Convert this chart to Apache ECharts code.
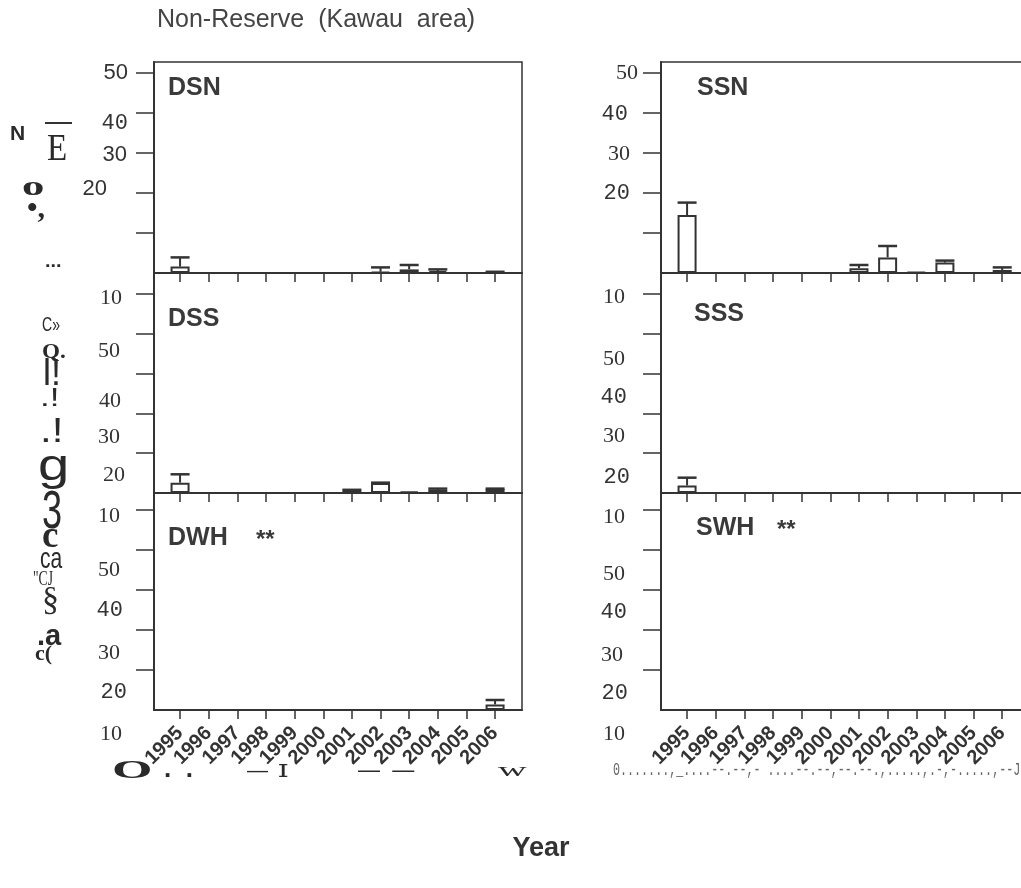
<!DOCTYPE html>
<html><head><meta charset="utf-8">
<script src="https://cdn.jsdelivr.net/npm/echarts@6/dist/echarts.min.js"></script>
<style>html,body{margin:0;padding:0;background:#fff}#c{width:1021px;height:888px}</style>
</head><body><div id="c"></div>
<script>
// ---------------- DATA ----------------
const years = [1995,1996,1997,1998,1999,2000,2001,2002,2003,2004,2005,2006];
const dsnMean  = [1.6, 0, 0, 0, 0, 0, 0,   0.3, 0.9, 0.5, 0, 0.2];
const dsnUpper = [3.9, 0, 0, 0, 0, 0, 0,   1.4, 2.0, 0.9, 0, 0.3];
const ssnMean  = [14.5,0, 0, 0, 0, 0, 1.2, 3.9, 0.3, 2.6, 0, 0.75];
const ssnUpper = [17.6,0, 0, 0, 0, 0, 2.0, 6.75,0.3, 3.1, 0, 1.4];
const dssMean  = [2.6, 0, 0, 0, 0, 0, 0.6, 2.5, 0.4, 0.8, 0, 1.0];
const dssUpper = [4.7, 0, 0, 0, 0, 0, 0.8, 2.6, 0.4, 1.1, 0, 1.1];
const sssMean  = [1.9, 0, 0, 0, 0, 0, 0,   0,   0,   0,   0, 0];
const sssUpper = [3.85,0, 0, 0, 0, 0, 0,   0,   0,   0,   0, 0];
const dwhMean  = [0,   0, 0, 0, 0, 0, 0,   0,   0,   0,   0, 1.4];
const dwhUpper = [0,   0, 0, 0, 0, 0, 0,   0,   0,   0,   0, 2.5];
const swhMean  = [0,   0, 0, 0, 0, 0, 0,   0,   0,   0,   0, 0];
const swhUpper = [0,   0, 0, 0, 0, 0, 0,   0,   0,   0,   0, 0];

const tickValues    = [50, 40, 30, 20, 10, 0];
const dsnTickLabels = ['50','40','30','20','',''];
const ssnTickLabels = ['50','40','30','20','',''];
const dssTickLabels = ['10','50','40','30','20',''];
const sssTickLabels = ['10','50','40','30','20',''];
const dwhTickLabels = ['10','50','40','30','20','10'];
const swhTickLabels = ['10','50','40','30','20','10'];

const panelNames = ['DSN','SSN','DSS','SSS','DWH','SWH'];
const panelMarks = ['','','','','**','**'];
const titleText = 'Non-Reserve  (Kawau  area)';
const xAxisTitle = 'Year';
// scanned (OCR) fragments of the original figure
const ocrTexts = ['N','E','o','\u2022,','...','C\u00bb','Q.','l!','.!','.!','g','3','c','ca','"CJ','\u00a7','.a','c(',
                  'O','.  .','\u2014','\u026a','\u2014  \u2014','w',
                  '0.......,_....--.--,- ....--.--,--.--.,.....,.-,-.....,--J'];

// ---------------- STYLE / LAYOUT ----------------
const ink = '#333';
const F = {serif:'"Liberation Serif"', mono:'"Liberation Mono"', sans:'"Liberation Sans"'};
const colLeft = [154, 661], colWidth = [368, 369], colMax = [2006.94, 2006.97];
const rowTop = [62, 273, 493], rowHeight = [211, 220, 217], rowMax = [52.75, 55.3, 54.25];
const panelData = [
  [dsnMean, dsnUpper, dsnTickLabels], [ssnMean, ssnUpper, ssnTickLabels],
  [dssMean, dssUpper, dssTickLabels], [sssMean, sssUpper, sssTickLabels],
  [dwhMean, dwhUpper, dwhTickLabels], [swhMean, swhUpper, swhTickLabels]
];
// per tick label: [font, margin from axis (px), vertical shift (px)]
const labelStyle = [
  [['sans',26,0],['mono',26,10],['sans',27,2],['sans',47,-4],null,null],
  [['serif',23,0],['mono',33,1],['serif',31,1],['mono',31,0],null,null],
  [['serif',32,4],['serif',34,17],['serif',33,28],['serif',34,24],['serif',29,22],null],
  [['serif',36,3],['serif',36,25],['mono',34,24],['serif',36,23],['mono',31,24],null],
  [['serif',34,6],['serif',34,20],['mono',31,20],['serif',34,23],['mono',27,22],['serif',32,24]],
  [['serif',36,7],['serif',36,24],['mono',34,22],['serif',38,25],['mono',33,23],['serif',36,24]]
];
const M0 = 20;
const nameStyle = [[168,88],[697,88],[168,319],[694,314],[168,538],[696,528]];
const markStyle = [null,null,null,null,[256,540],[777,530]];
// ocr fragment placement: [x, y(middle), font, scaleX]
const ocrStyle = [
  [10,134.6,'bold 21px '+F.sans,1],
  [47,149.7,'38px '+F.serif,0.87],
  [22,188,'bold 28px '+F.serif,1.6],
  [27,209.5,'bold 30px '+F.serif,1],
  [45,261.7,'bold 18px '+F.sans,1.1],
  [42,325.6,'21px '+F.sans,0.67],
  [42,352.6,'bold 21px '+F.serif,1.1],
  [43,375.4,'36px '+F.sans,1],
  [40,399.3,'25px '+F.sans,1.4],
  [40,432.8,'35px '+F.sans,1.2],
  [38,468,'45px '+F.sans,1.25],
  [42,513,'54px '+F.sans,0.67],
  [42,537,'bold 37px '+F.serif,1],
  [40,559.5,'30px '+F.sans,0.7],
  [33,579.3,'22px '+F.serif,0.62],
  [42,601,'34px '+F.serif,1],
  [37,636.9,'bold 29px '+F.sans,1],
  [35,654,'bold 22px '+F.serif,1],
  [112,770.9,'bold 26px '+F.serif,2.0],
  [164,770,'bold 26px '+F.sans,1],
  [247,771.3,'21px '+F.sans,1],
  [278,771,'24px "DejaVu Serif"',1.3],
  [358,771.3,'22px '+F.sans,1],
  [498,771.7,'18px '+F.serif,2.2],
  [613,770.7,'18px '+F.mono,0.65]
];

// ---------------- BUILD ----------------
const grids = [], xAxes = [], yAxes = [], series = [];
panelData.forEach((pd, p) => {
  const col = p % 2, row = Math.floor(p / 2);
  const [mean, upper, labels] = pd;
  grids.push({left: colLeft[col], top: rowTop[row], width: colWidth[col], height: rowHeight[row],
    show: true, borderColor: ink, borderWidth: 1.5, backgroundColor: 'transparent',
    containLabel: false, outerBoundsMode: 'none'});
  xAxes.push({type: 'value', gridIndex: p, min: 1994.09, max: colMax[col],
    axisLine: {show: true, onZero: false, lineStyle: {color: ink, width: 2}},
    axisTick: {show: true, customValues: years, length: 9, inside: false, lineStyle: {color: ink, width: 1.5}},
    axisLabel: {show: row === 2, customValues: years, rotate: 45, margin: 20,
      fontFamily: F.sans, fontWeight: 'bold', fontSize: 20, color: ink, formatter: v => String(Math.round(v))},
    splitLine: {show: false}});
  const rich = {};
  const shown = [];
  tickValues.forEach((tv, i) => {
    const st = labelStyle[p][i];
    if (!labels[i] || !st) return;
    shown.push(tv);
    const dy = st[2];
    rich['l' + i] = {fontFamily: F[st[0]], fontSize: 22, color: ink,
      padding: [dy > 0 ? 2 * dy : 0, st[1] - M0, dy < 0 ? -2 * dy : 0, 0]};
  });
  yAxes.push({type: 'value', gridIndex: p, min: 0, max: rowMax[row],
    axisLine: {show: true, onZero: false, lineStyle: {color: ink, width: 2}},
    axisTick: {show: true, customValues: [10,20,30,40,50], length: 18, inside: false, lineStyle: {color: ink, width: 1.5}},
    axisLabel: {show: true, customValues: shown, margin: M0, rich: rich,
      formatter: v => { const i = tickValues.indexOf(Math.round(v)); return i < 0 ? '' : '{l' + i + '|' + labels[i] + '}'; }},
    splitLine: {show: false}});
  series.push({type: 'bar', xAxisIndex: p, yAxisIndex: p, barWidth: 19, silent: true,
    data: years.map((y, i) => [y, mean[i]]).filter(d => d[1] > 0),
    itemStyle: {color: '#fff', borderColor: ink, borderWidth: 2}});
  series.push({type: 'custom', xAxisIndex: p, yAxisIndex: p, silent: true, z: 3,
    data: years.map((y, i) => [y, mean[i], upper[i]]).filter(d => d[2] > d[1]),
    encode: {x: 0, y: [1, 2]},
    renderItem: (params, api) => {
      const x = api.value(0), m = api.value(1), u = api.value(2);
      const p0 = api.coord([x, m]), p1 = api.coord([x, u]);
      return {type: 'group', children: [
        {type: 'line', shape: {x1: p0[0], y1: p0[1], x2: p1[0], y2: p1[1]}, style: {stroke: ink, lineWidth: 2}},
        {type: 'line', shape: {x1: p1[0] - 9.5, y1: p1[1], x2: p1[0] + 9.5, y2: p1[1]}, style: {stroke: ink, lineWidth: 2.5}}
      ]};
    }});
});

const graphics = [];
function txt(text, x, y, font, color, scaleX, align) {
  return {type: 'text', x: x, y: y, scaleX: scaleX || 1, silent: true,
    style: {text: text, font: font, fill: color, align: align || 'left', textAlign: align || 'left',
            verticalAlign: 'middle', textVerticalAlign: 'middle'}};
}
graphics.push(txt(titleText, 157, 20, '25px ' + F.sans, '#444'));
graphics.push(txt(xAxisTitle, 541, 849, 'bold 27px ' + F.sans, ink, 1, 'center'));
panelNames.forEach((n, p) => {
  graphics.push(txt(n, nameStyle[p][0], nameStyle[p][1], 'bold 25px ' + F.sans, '#3a3a3a'));
  if (panelMarks[p]) graphics.push(txt(panelMarks[p], markStyle[p][0], markStyle[p][1], 'bold 24px ' + F.sans, '#3a3a3a'));
});
ocrTexts.forEach((t, i) => {
  const s = ocrStyle[i];
  graphics.push(txt(t, s[0], s[1], s[2], i === ocrTexts.length - 1 ? '#666' : '#2a2a2a', s[3]));
});
graphics.push({type: 'rect', silent: true, shape: {x: 45, y: 122, width: 27, height: 2}, style: {fill: '#333'}});

const chart = echarts.init(document.getElementById('c'), null, {renderer: 'canvas'});
chart.setOption({animation: false, backgroundColor: '#fff', grid: grids, xAxis: xAxes, yAxis: yAxes,
  series: series, graphic: {elements: graphics}});
</script></body></html>
